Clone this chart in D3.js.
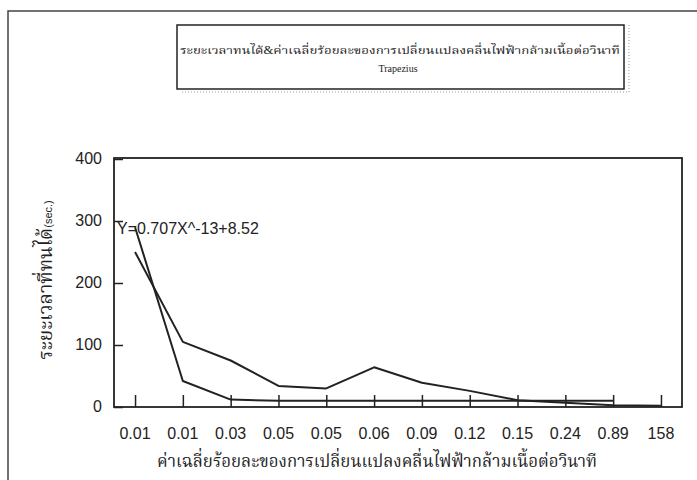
<!DOCTYPE html>
<html>
<head>
<meta charset="utf-8">
<script src="https://cdn.jsdelivr.net/npm/d3@7"></script>
<style>
  body { margin: 0; background: #fff; }
  svg text { fill: #222; }
</style>
</head>
<body>
<div class="chart"></div>
<script>
// x categories (shown as tick labels)
var categories = ["0.01", "0.01", "0.03", "0.05", "0.05", "0.06", "0.09", "0.12", "0.15", "0.24", "0.89", "158"];
// measured time (sec.)
var measured = [250, 105, 75, 34, 30, 64, 39, 26, 11, 7, 3, 2];
// fitted curve, ends one category early
var fitted = [290, 42, 12, 10, 10, 10, 10, 10, 10, 10, 10];
var yTicks = [0, 100, 200, 300, 400];

var titleLine1 = "ระยะเวลาทนได้&ค่าเฉลี่ยร้อยละของการเปลี่ยนแปลงคลื่นไฟฟ้ากล้ามเนื้อต่อวินาที";
var titleLine2 = "Trapezius";
var xTitle = "ค่าเฉลี่ยร้อยละของการเปลี่ยนแปลงคลื่นไฟฟ้ากล้ามเนื้อต่อวินาที";
var yTitle = "ระยะเวลาที่ทนได้";
var equation = "Y=0.707X^-13+8.52";

var width = 697, height = 480;
var thai = "'Noto Serif Thai', 'Noto Sans Thai', Garuda, Loma, 'Tlwg Typo', sans-serif";
var ink = "#222";

var svg = d3.select(".chart").append("svg")
  .attr("width", width)
  .attr("height", height);

// outer frame
svg.append("rect")
  .attr("x", 8).attr("y", 11)
  .attr("width", 720).attr("height", 500)
  .attr("fill", "none").attr("stroke", "#444").attr("stroke-width", 1.5);

// title box
svg.append("rect")
  .attr("x", 177).attr("y", 25)
  .attr("width", 447).attr("height", 64)
  .attr("fill", "none").attr("stroke", ink).attr("stroke-width", 1.5);
svg.append("path")
  .attr("d", "M629,25V92H180")
  .attr("fill", "none").attr("stroke", "#999")
  .attr("stroke-width", 1).attr("stroke-dasharray", "1,2");

svg.append("text")
  .attr("x", 400).attr("y", 54)
  .attr("text-anchor", "middle")
  .attr("textLength", 440).attr("lengthAdjust", "spacingAndGlyphs")
  .style("font-family", thai).style("font-size", "11px")
  .text(titleLine1);
svg.append("text")
  .attr("x", 398).attr("y", 72)
  .attr("text-anchor", "middle")
  .style("font-family", "'Liberation Serif', serif").style("font-size", "10px")
  .text(titleLine2);

// plot area
var L = 114, R = 682, T = 158, B = 407;

var x = d3.scalePoint()
  .domain(d3.range(categories.length))
  .range([L, R])
  .padding(0.44);

var y = d3.scaleLinear()
  .domain([0, 400])
  .range([B, T + 1]);

svg.append("rect")
  .attr("x", L).attr("y", T)
  .attr("width", R - L).attr("height", B - T)
  .attr("fill", "none").attr("stroke", ink).attr("stroke-width", 1.8);

// x axis: inward ticks, labels placed lower
var xAxis = svg.append("g")
  .attr("transform", "translate(0," + B + ")")
  .call(d3.axisTop(x).tickSize(12).tickFormat(""));
xAxis.select(".domain").remove();
xAxis.selectAll("line").attr("stroke", ink).attr("stroke-width", 1.5);

svg.selectAll(".xlab")
  .data(categories)
  .enter().append("text")
  .attr("class", "xlab")
  .attr("x", function(d, i) { return x(i); })
  .attr("y", 439)
  .attr("text-anchor", "middle")
  .style("font-family", "'Liberation Sans', Arial, sans-serif")
  .style("font-size", "16px")
  .text(function(d) { return d; });

// y axis
var yAxis = svg.append("g")
  .attr("transform", "translate(" + L + ",0)")
  .call(d3.axisRight(y).tickValues(yTicks).tickSize(9).tickFormat(""));
yAxis.select(".domain").remove();
yAxis.selectAll("line").attr("stroke", ink).attr("stroke-width", 1.5);

svg.selectAll(".ylab")
  .data(yTicks)
  .enter().append("text")
  .attr("class", "ylab")
  .attr("x", 102)
  .attr("y", function(d) { return y(d) + 5; })
  .attr("text-anchor", "end")
  .style("font-family", "'Liberation Sans', Arial, sans-serif")
  .style("font-size", "16px")
  .text(function(d) { return d; });

// lines
var line = d3.line()
  .x(function(d, i) { return x(i); })
  .y(function(d) { return y(d); });

[measured, fitted].forEach(function(series) {
  svg.append("path")
    .datum(series)
    .attr("d", line)
    .attr("fill", "none")
    .attr("stroke", ink)
    .attr("stroke-width", 2)
    .attr("stroke-linejoin", "round");
});

// equation label
svg.append("text")
  .attr("x", 117).attr("y", 234)
  .style("font-family", "'Liberation Sans', Arial, sans-serif")
  .style("font-size", "16px")
  .text(equation);

// axis titles
svg.append("text")
  .attr("x", 377).attr("y", 467)
  .attr("text-anchor", "middle")
  .attr("textLength", 440).attr("lengthAdjust", "spacingAndGlyphs")
  .style("font-family", thai).style("font-size", "18px")
  .text(xTitle);

var yt = svg.append("text")
  .attr("transform", "translate(52,280) rotate(-90)")
  .attr("text-anchor", "middle")
  .style("font-family", thai).style("font-size", "19px");
yt.append("tspan").text(yTitle);
yt.append("tspan")
  .style("font-family", "'Liberation Sans', Arial, sans-serif")
  .style("font-size", "11px")
  .text("(sec.)");
</script>
</body>
</html>
